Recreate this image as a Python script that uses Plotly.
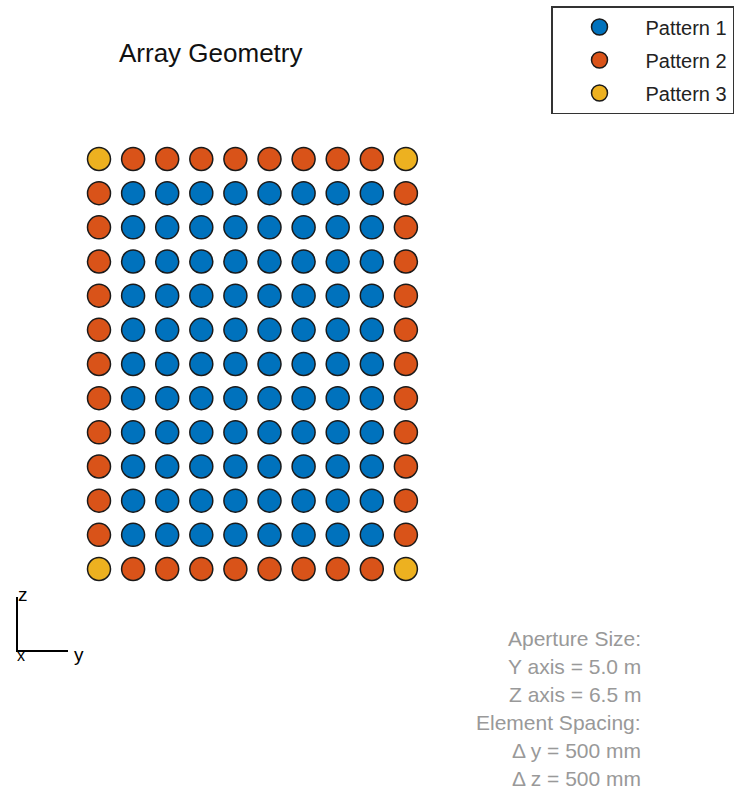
import plotly.graph_objects as go

# Array element positions (m)
y_positions = [-2.25, -1.75, -1.25, -0.75, -0.25, 0.25, 0.75, 1.25, 1.75, 2.25]
z_positions = [3.0, 2.5, 2.0, 1.5, 1.0, 0.5, 0.0, -0.5, -1.0, -1.5, -2.0, -2.5, -3.0]
pattern_names = ["Pattern 1", "Pattern 2", "Pattern 3"]
pattern_colors = ["#0072BD", "#D95319", "#EDB120"]
info_lines = ["Aperture Size:", "Y axis = 5.0 m", "Z axis = 6.5 m",
              "Element Spacing:", "\u0394 y = 500 mm", "\u0394 z = 500 mm"]

W, H = 740, 791
FONT = "Liberation Sans, Arial, Helvetica"

# classify elements
groups = {0: ([], []), 1: ([], []), 2: ([], [])}
ny, nz = len(y_positions), len(z_positions)
for i, yv in enumerate(y_positions):
    for j, zv in enumerate(z_positions):
        edge_y = i in (0, ny - 1)
        edge_z = j in (0, nz - 1)
        if edge_y and edge_z:
            g = 2
        elif edge_y or edge_z:
            g = 1
        else:
            g = 0
        groups[g][0].append(yv)
        groups[g][1].append(zv)

fig = go.Figure()
for g in range(3):
    fig.add_trace(go.Scatter(
        x=groups[g][0], y=groups[g][1], mode="markers", name=pattern_names[g],
        legendgroup=f"g{g}",
        marker=dict(size=23, color=pattern_colors[g],
                    line=dict(color="#1a1a1a", width=1.5)),
    ))

# pixel mapping (reference pixel coordinates -> figure)
px_per_m_x = 68.2
px_per_m_y = 68.33
x0 = y_positions[0] - 99 / px_per_m_x
x1 = x0 + W / px_per_m_x
ytop = z_positions[0] + 159 / px_per_m_y
ybot = ytop - H / px_per_m_y


def px(x):
    return x / W


def py(y):
    return 1 - y / H


shapes = [
    dict(type="line", xref="paper", yref="paper", x0=px(17), y0=py(597), x1=px(17), y1=py(651),
         line=dict(color="black", width=2)),
    dict(type="line", xref="paper", yref="paper", x0=px(16), y0=py(651), x1=px(68), y1=py(651),
         line=dict(color="black", width=2)),
]

annotations = [
    dict(text="Array Geometry", x=px(211), y=py(53), xref="paper", yref="paper",
         showarrow=False, font=dict(size=26, color="#111111", family=FONT),
         xanchor="center", yanchor="middle"),
    dict(text="z", x=px(23), y=py(594), xref="paper", yref="paper", showarrow=False,
         font=dict(size=19, color="black", family=FONT), xanchor="center", yanchor="middle"),
    dict(text="y", x=px(79), y=py(654), xref="paper", yref="paper", showarrow=False,
         font=dict(size=19, color="black", family=FONT), xanchor="center", yanchor="middle"),
    dict(text="x", x=px(21), y=py(655), xref="paper", yref="paper", showarrow=False,
         font=dict(size=16, color="black", family=FONT), xanchor="center", yanchor="middle"),
]
info_y = [638, 666, 694, 722, 750, 778]
for k, line in enumerate(info_lines):
    annotations.append(dict(
        text=line, x=px(643), y=py(info_y[k]), xref="paper", yref="paper", showarrow=False,
        font=dict(size=21, color="#999999", family=FONT),
        xanchor="right", yanchor="middle"))

fig.update_layout(
    width=W, height=H,
    margin=dict(l=0, r=0, t=0, b=0),
    paper_bgcolor="white", plot_bgcolor="white",
    xaxis=dict(range=[x0, x1], visible=False, fixedrange=True),
    yaxis=dict(range=[ybot, ytop], visible=False, fixedrange=True),
    showlegend=True,
    legend=dict(x=px(551), y=py(6), xanchor="left", yanchor="top",
                bgcolor="white", bordercolor="#333333", borderwidth=1.5,
                font=dict(size=20, color="#222222", family=FONT),
                itemsizing="trace", itemwidth=82, indentation=1,
                tracegroupgap=4),
    shapes=shapes, annotations=annotations,
)

fig.write_html(
    "out.html",
    config={"displayModeBar": False},
    post_script="document.body.style.margin='0';document.body.style.overflow='hidden';",
)
